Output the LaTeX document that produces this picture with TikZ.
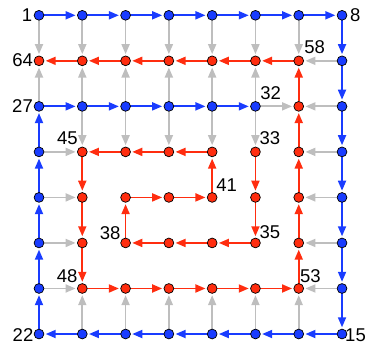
\documentclass[tikz,border=0pt]{standalone}
\usepackage{fontspec}
\setmainfont{Liberation Sans}
\usetikzlibrary{arrows.meta,calc,backgrounds}
\definecolor{pblue}{RGB}{25,60,255}
\definecolor{pred}{RGB}{255,45,15}
\definecolor{pgray}{RGB}{190,190,190}
\begin{document}
\begin{tikzpicture}[x=1bp,y=-1bp,
  vtx/.style={circle,draw=black,line width=0.7bp,minimum size=9.8bp,inner sep=0,outer sep=0},
  bv/.style={vtx,fill=pblue},
  rv/.style={vtx,fill=pred},
  arr/.style={line width=1.8bp,-{Triangle[length=10bp,width=8bp]},shorten >=1.8bp},
  ge/.style={arr,draw=pgray},
  be/.style={arr,draw=pblue},
  re/.style={arr,draw=pred},
  lbl/.style={inner sep=0,font=\fontsize{18.5bp}{20bp}\selectfont}]
\useasboundingbox (0,0) rectangle (370,345);
% blue vertices
\foreach \c in {0,...,7} \node[bv] (n-\c-0) at ({39+43.29*\c},15.3) {};
\foreach \r in {1,...,7} \node[bv] (n-7-\r) at ({39+43.29*7},{15.3+45.53*\r}) {};
\foreach \c in {0,...,6} \node[bv] (n-\c-7) at ({39+43.29*\c},{15.3+45.53*7}) {};
\foreach \r in {2,...,6} \node[bv] (n-0-\r) at (39,{15.3+45.53*\r}) {};
\foreach \c in {1,...,5} \node[bv] (n-\c-2) at ({39+43.29*\c},{15.3+45.53*2}) {};
% red vertices
\foreach \c in {0,...,6} \node[rv] (n-\c-1) at ({39+43.29*\c},{15.3+45.53}) {};
\node[rv] (n-6-2) at ({39+43.29*6},{15.3+45.53*2}) {};
\foreach \c in {1,...,6} \foreach \r in {3,...,6} \node[rv] (n-\c-\r) at ({39+43.29*\c},{15.3+45.53*\r}) {};
\begin{scope}[on background layer]
% gray
\foreach \c in {0,...,6} \draw[ge] (n-\c-0) -- (n-\c-1);
\foreach \c in {0,...,5} \draw[ge] (n-\c-2) -- (n-\c-1);
\foreach \c in {1,...,5} \draw[ge] (n-\c-2) -- (n-\c-3);
\draw[ge] (n-5-2) -- (n-6-2);
\foreach \r in {1,...,6} \draw[ge] (n-7-\r) -- (n-6-\r);
\foreach \c in {1,...,6} \draw[ge] (n-\c-7) -- (n-\c-6);
\foreach \r in {3,...,6} \draw[ge] (n-0-\r) -- (n-1-\r);
% blue
\foreach \c [evaluate=\c as \d using int(\c+1)] in {0,...,6} \draw[be] (n-\c-0) -- (n-\d-0);
\foreach \r [evaluate=\r as \s using int(\r+1)] in {0,...,6} \draw[be] (n-7-\r) -- (n-7-\s);
\foreach \c [evaluate=\c as \d using int(\c-1)] in {1,...,7} \draw[be] (n-\c-7) -- (n-\d-7);
\foreach \r [evaluate=\r as \s using int(\r-1)] in {3,...,7} \draw[be] (n-0-\r) -- (n-0-\s);
\foreach \c [evaluate=\c as \d using int(\c+1)] in {0,...,4} \draw[be] (n-\c-2) -- (n-\d-2);
% red
\foreach \a/\b in {5-3/5-4,5-4/5-5,5-5/4-5,4-5/3-5,3-5/2-5,2-5/2-4,2-4/3-4,3-4/4-4,4-4/4-3,4-3/3-3,3-3/2-3,2-3/1-3,1-3/1-4,1-4/1-5,1-5/1-6,1-6/2-6,2-6/3-6,3-6/4-6,4-6/5-6,5-6/6-6,6-6/6-5,6-5/6-4,6-4/6-3,6-3/6-2,6-2/6-1,6-1/5-1,5-1/4-1,4-1/3-1,3-1/2-1,2-1/1-1,1-1/0-1}
  \draw[re] (n-\a) -- (n-\b);
\end{scope}
% labels
\node[lbl,anchor=base east] at ($(n-0-0)+(-6.6,6.4)$) {1};
\node[lbl,anchor=base east] at ($(n-0-1)+(-5.8,5.8)$) {64};
\node[lbl,anchor=base east] at ($(n-0-2)+(-6,6.3)$) {27};
\node[lbl,anchor=base west] at ($(n-7-0)+(8,6.4)$) {8};
\node[lbl,anchor=base west] at ($(n-6-1)+(5.4,-7.8)$) {58};
\node[lbl,anchor=base west] at ($(n-5-2)+(4.8,-6.4)$) {32};
\node[lbl,anchor=base west] at ($(n-5-3)+(4,-6.9)$) {33};
\node[lbl,anchor=base east] at ($(n-1-3)+(-4.4,-6.9)$) {45};
\node[lbl,anchor=base west] at ($(n-4-4)+(3.9,-5.7)$) {41};
\node[lbl,anchor=base east] at ($(n-2-5)+(-5,-3)$) {38};
\node[lbl,anchor=base west] at ($(n-5-5)+(4,-4.6)$) {35};
\node[lbl,anchor=base east] at ($(n-1-6)+(-4.7,-6.2)$) {48};
\node[lbl,anchor=base west] at ($(n-6-6)+(1.2,-6.2)$) {53};
\node[lbl,anchor=base east] at ($(n-0-7)+(-5.5,7)$) {22};
\node[lbl,anchor=base west] at ($(n-7-7)+(3,7)$) {15};
\end{tikzpicture}
\end{document}
